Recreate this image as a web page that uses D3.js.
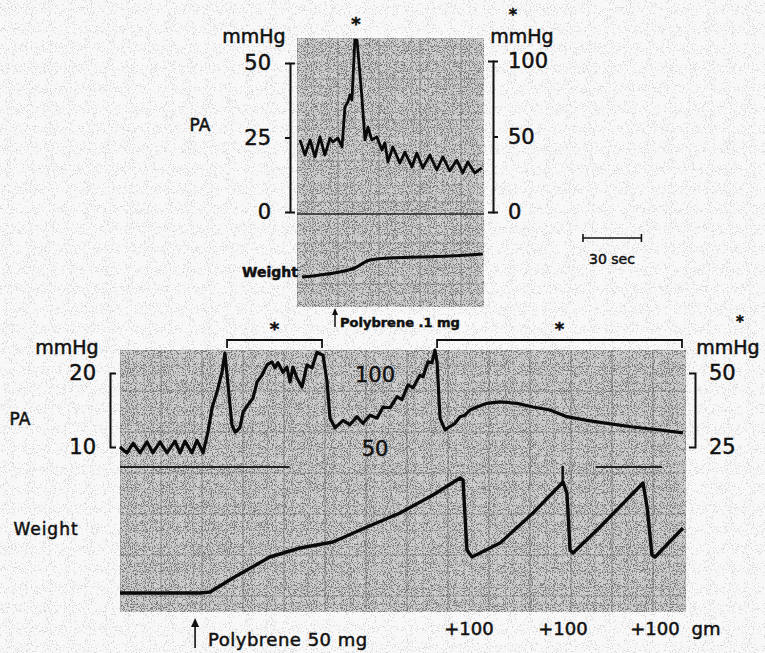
<!DOCTYPE html>
<html>
<head>
<meta charset="utf-8">
<script src="https://cdn.jsdelivr.net/npm/d3@7/dist/d3.min.js"></script>
<style>
  body { margin: 0; background: #f2f2f2; }
  svg { display: block; font-family: 'DejaVu Sans', sans-serif; }
  text { fill: #111; stroke: #111; stroke-width: 0.5px; }
</style>
</head>
<body>
<svg></svg>
<script>
const width = 765;
const height = 653;

// upper recording (Polybrene .1 mg): [seconds, mmHg]
const upperPA = [[1.0,24.2],[3.6,19.1],[6.2,24.2],[8.7,18.5],[11.3,25.2],[13.8,19.1],[16.4,24.8],[17.9,23.5],
  [20.5,24.8],[22.6,21.8],[24.1,35.2],[25.6,36.9],[26.7,39.3],[27.7,37.6],[29.2,57.7],[30.3,57.7],[32.8,38.6],
  [34.4,24.2],[35.9,28.5],[37.9,24.2],[40.5,25.2],[43.1,20.8],[44.6,23.2],[46.2,16.8],[48.7,21.8],[52.3,16.4],
  [54.9,20.1],[58.5,15.1],[61.0,19.8],[64.1,14.8],[67.7,19.1],[71.3,14.1],[74.4,18.5],[77.9,13.8],[81.5,17.4],
  [84.6,13.1],[87.2,16.8],[90.8,13.1],[94.4,14.8]];
// upper weight trace, relative units
const upperWeight = [[2.1,23],[11.3,25],[21.5,28],[29.2,32],[36.9,40],[47.2,42],[62.6,43],[77.9,44],[94.9,46]];

// lower recording (Polybrene 50 mg): [seconds, mmHg]
const lowerPA = [[0,10.0],[3.6,9.2],[6.7,10.5],[10.3,9.2],[13.8,10.7],[16.9,9.2],[20.5,10.7],[24.1,9.2],
  [28.2,10.8],[30.8,9.2],[33.3,10.8],[36.9,9.2],[39.5,10.9],[42.6,9.2],[45.1,12.0],[47.2,15.3],[49.7,17.4],
  [52.3,20.1],[53.8,22.7],[55.4,18.4],[57.4,13.0],[59.0,12.0],[61.5,12.6],[63.1,14.7],[65.6,15.7],[68.2,16.6],
  [70.3,18.8],[72.8,19.7],[75.4,21.1],[77.9,21.5],[79.5,20.7],[81.0,21.4],[83.6,20.1],[85.6,20.8],[87.2,18.8],
  [88.7,20.8],[90.8,19.3],[93.3,18.1],[95.9,21.1],[98.5,20.7],[101.0,22.8],[104.1,22.4],[106.2,18.8],
  [107.7,13.9],[110.3,12.6],[114.4,13.6],[117.9,13.0],[121.5,14.1],[124.6,13.2],[128.2,14.3],[131.8,13.9],
  [134.9,15.4],[138.5,15.3],[142.1,16.8],[144.6,16.4],[147.7,18.4],[150.3,18.0],[153.8,19.7],[155.4,19.5],
  [157.9,21.5],[160.0,21.4],[161.5,23.1],[162.6,21.5],[164.1,13.9],[166.7,12.3],[168.2,12.6],[171.8,13.2],
  [174.4,14.1],[176.9,14.3],[179.5,15.0],[183.1,15.4],[188.2,15.9],[194.9,16.1],[203.6,15.9],[211.8,15.4],
  [220.5,15.0],[229.2,14.1],[239.5,13.6],[249.7,13.2],[263.1,12.7],[276.9,12.3],[288.7,11.9]];
const lowerWeight = [[0,2],[41.0,2],[46.2,3],[57.9,17],[76.9,38],[92.3,47],[109.2,53],[126.7,68],[143.6,82],
  [160.5,100],[174.4,117],[175.9,115],[177.9,45],[180.5,38],[194.9,52],[211.8,82],[227.2,113],[229.2,102],
  [230.8,45],[232.3,42],[246.2,68],[268.2,112],[270.3,88],[272.8,40],[274.4,38],[288.7,67]];

// annotations
const starSpans = [[54.9, 103.6], [162.6, 288.2]];
const addWeightTimes = [180.5, 228.7, 275.9];
const signalMarks = [[0, 87], [244, 278]];
const eventTicks = [227];
const upperDoseTime = 19.0;
const lowerDoseTime = 38.5;

const svg = d3.select('svg')
  .attr('width', width)
  .attr('height', height);

// paper speckle
const defs = svg.append('defs');
const addSpeckle = (id, cut) => {
  const f = defs.append('filter').attr('id', id)
    .attr('x', 0).attr('y', 0).attr('width', 1).attr('height', 1);
  f.append('feTurbulence')
    .attr('type', 'fractalNoise').attr('baseFrequency', 0.95).attr('numOctaves', 2).attr('seed', 4);
  f.append('feColorMatrix')
    .attr('type', 'matrix')
    .attr('values', `0 0 0 0 0  0 0 0 0 0  0 0 0 0 0  14 0 0 0 ${-cut}`);
};
addSpeckle('speckleLight', 8.6);
addSpeckle('speckleDense', 7.4);

svg.append('rect')
  .attr('width', width).attr('height', height)
  .attr('fill', '#f8f8f8');
svg.append('rect')
  .attr('width', width).attr('height', height)
  .attr('filter', 'url(#speckleLight)')
  .attr('opacity', 0.13);

// scales
const upperX = d3.scaleLinear().domain([0, 95]).range([298, 483]);
const upperY = d3.scaleLinear().domain([0, 50]).range([212, 63]);
const upperYStar = d3.scaleLinear().domain([0, 100]).range([212, 61]);
const upperW = d3.scaleLinear().domain([0, 60]).range([300, 240]);

const lowerX = d3.scaleLinear().domain([0, 290]).range([120, 685.5]);
const lowerY = d3.scaleLinear().domain([10, 20]).range([447, 373]);
const lowerYMid = d3.scaleLinear().domain([50, 100]).range([447, 373]);
const lowerYStar = d3.scaleLinear().domain([25, 50]).range([447, 373]);
const lowerW = d3.scaleLinear().domain([0, 130]).range([595, 465]);

const drawPaper = (x0, y0, x1, y1, id) => {
  const g = svg.append('g');
  defs.append('clipPath').attr('id', id)
    .append('rect').attr('x', x0).attr('y', y0).attr('width', x1 - x0).attr('height', y1 - y0);
  g.attr('clip-path', `url(#${id})`);
  g.append('rect')
    .attr('x', x0).attr('y', y0).attr('width', x1 - x0).attr('height', y1 - y0)
    .attr('fill', '#cfcfcf');
  g.append('rect')
    .attr('x', x0).attr('y', y0).attr('width', x1 - x0).attr('height', y1 - y0)
    .attr('filter', 'url(#speckleDense)')
    .attr('opacity', 0.4);
  const step = 8.2;
  d3.range(x0, x1, step).forEach((x, i) => {
    g.append('line')
      .attr('x1', x).attr('x2', x).attr('y1', y0).attr('y2', y1)
      .attr('stroke', i % 5 === 0 ? '#5a5a5a' : '#999')
      .attr('stroke-width', i % 5 === 0 ? 1 : 0.6)
      .attr('opacity', 0.55);
  });
  d3.range(y0, y1, step).forEach((y, i) => {
    g.append('line')
      .attr('x1', x0).attr('x2', x1).attr('y1', y).attr('y2', y)
      .attr('stroke', i % 5 === 0 ? '#666' : '#999')
      .attr('stroke-width', i % 5 === 0 ? 0.9 : 0.6)
      .attr('opacity', 0.5);
  });
};

drawPaper(297, 38, 484, 307, 'clipUpper');
drawPaper(120, 350, 686, 612, 'clipLower');

const styleAxis = (g, size) => {
  g.attr('font-family', "'DejaVu Sans', sans-serif").attr('font-size', size);
  g.selectAll('path, line').attr('stroke', '#111').attr('stroke-width', 2);
  g.selectAll('text').attr('fill', '#111');
};

// ---------- upper panel ----------
svg.append('line')
  .attr('x1', 297).attr('x2', 484)
  .attr('y1', upperY(0) + 2).attr('y2', upperY(0) + 2)
  .attr('stroke', '#222').attr('stroke-width', 1.5);

svg.append('g')
  .attr('transform', 'translate(290,0)')
  .call(d3.axisLeft(upperY).tickValues([0, 25, 50]).tickSizeInner(5).tickSizeOuter(-5).tickPadding(14))
  .call(g => styleAxis(g, 21));

svg.append('g')
  .attr('transform', 'translate(493,0)')
  .call(d3.axisRight(upperYStar).tickValues([0, 50, 100]).tickSizeInner(5).tickSizeOuter(-5).tickPadding(10))
  .call(g => styleAxis(g, 21));

const upperLine = d3.line().x(d => upperX(d[0])).y(d => upperY(d[1]));
svg.append('path')
  .datum(upperPA)
  .attr('fill', 'none')
  .attr('stroke', '#0a0a0a')
  .attr('stroke-width', 2.8)
  .attr('stroke-linejoin', 'round')
  .attr('d', upperLine);

const upperWLine = d3.line().x(d => upperX(d[0])).y(d => upperW(d[1])).curve(d3.curveMonotoneX);
svg.append('path')
  .datum(upperWeight)
  .attr('fill', 'none')
  .attr('stroke', '#0a0a0a')
  .attr('stroke-width', 3)
  .attr('d', upperWLine);

svg.append('text').attr('x', 254).attr('y', 43).attr('text-anchor', 'middle').attr('font-size', 19).text('mmHg');
svg.append('text').attr('x', 522).attr('y', 43).attr('text-anchor', 'middle').attr('font-size', 19).text('mmHg');
svg.append('text').attr('x', 513).attr('y', 20).attr('text-anchor', 'middle').attr('font-size', 16).attr('font-weight', 'bold').text('*');
svg.append('text').attr('x', upperX(29.8)).attr('y', 30).attr('text-anchor', 'middle').attr('font-size', 18).attr('font-weight', 'bold').text('*');
svg.append('text').attr('x', 200).attr('y', 131).attr('text-anchor', 'middle').attr('font-size', 17).text('PA');
svg.append('text').attr('x', 270).attr('y', 277).attr('text-anchor', 'middle').attr('font-size', 14).attr('font-weight', 'bold').text('Weight');

// dose arrow (upper)
svg.append('line')
  .attr('x1', upperX(upperDoseTime)).attr('x2', upperX(upperDoseTime))
  .attr('y1', 327).attr('y2', 310)
  .attr('stroke', '#111').attr('stroke-width', 1.5);
svg.append('path')
  .attr('d', `M${upperX(upperDoseTime) - 3},315L${upperX(upperDoseTime)},308L${upperX(upperDoseTime) + 3},315Z`)
  .attr('fill', '#111');
svg.append('text').attr('x', upperX(upperDoseTime) + 5).attr('y', 327).attr('font-size', 13).attr('font-weight', 'bold')
  .text('Polybrene .1 mg');

// 30 sec scale bar
const barX = 583;
svg.append('path')
  .attr('d', `M${barX},234V242M${barX},238H${barX + upperX(30) - upperX(0)}M${barX + upperX(30) - upperX(0)},234V242`)
  .attr('stroke', '#111').attr('stroke-width', 1.6).attr('fill', 'none');
svg.append('text').attr('x', barX + 29).attr('y', 264).attr('text-anchor', 'middle').attr('font-size', 14).text('30 sec');

// ---------- lower panel ----------
signalMarks.forEach(s => {
  svg.append('line')
    .attr('x1', lowerX(s[0])).attr('x2', lowerX(s[1]))
    .attr('y1', 467).attr('y2', 467)
    .attr('stroke', '#222').attr('stroke-width', 2);
});
eventTicks.forEach(t => {
  svg.append('line')
    .attr('x1', lowerX(t)).attr('x2', lowerX(t))
    .attr('y1', 466).attr('y2', 484)
    .attr('stroke', '#111').attr('stroke-width', 2.5);
});

svg.append('g')
  .attr('transform', 'translate(110,0)')
  .call(d3.axisLeft(lowerY).tickValues([10, 20]).tickSizeInner(0).tickSizeOuter(-6).tickPadding(14))
  .call(g => styleAxis(g, 21));

svg.append('g')
  .attr('transform', 'translate(695,0)')
  .call(d3.axisRight(lowerYStar).tickValues([25, 50]).tickSizeInner(0).tickSizeOuter(-6).tickPadding(14))
  .call(g => styleAxis(g, 21));

svg.append('g')
  .attr('transform', 'translate(375,2)')
  .call(d3.axisLeft(lowerYMid).tickValues([50, 100]).tickSize(0).tickPadding(0))
  .call(g => {
    styleAxis(g, 21);
    g.select('.domain').remove();
    g.selectAll('text').attr('text-anchor', 'middle');
  });

starSpans.forEach(s => {
  const x0 = lowerX(s[0]);
  const x1 = lowerX(s[1]);
  svg.append('path')
    .attr('d', `M${x0},348V340H${x1}V348`)
    .attr('fill', 'none').attr('stroke', '#111').attr('stroke-width', 1.8);
  svg.append('text').attr('x', (x0 + x1) / 2).attr('y', 335).attr('text-anchor', 'middle')
    .attr('font-size', 18).attr('font-weight', 'bold').text('*');
});

const lowerLine = d3.line().x(d => lowerX(d[0])).y(d => lowerY(d[1]));
svg.append('path')
  .datum(lowerPA)
  .attr('fill', 'none')
  .attr('stroke', '#0a0a0a')
  .attr('stroke-width', 3.2)
  .attr('stroke-linejoin', 'round')
  .attr('d', lowerLine);

const lowerWLine = d3.line().x(d => lowerX(d[0])).y(d => lowerW(d[1]));
svg.append('path')
  .datum(lowerWeight)
  .attr('fill', 'none')
  .attr('stroke', '#0a0a0a')
  .attr('stroke-width', 3.4)
  .attr('stroke-linejoin', 'round')
  .attr('d', lowerWLine);

svg.append('text').attr('x', 67).attr('y', 354).attr('text-anchor', 'middle').attr('font-size', 19).text('mmHg');
svg.append('text').attr('x', 728).attr('y', 354).attr('text-anchor', 'middle').attr('font-size', 19).text('mmHg');
svg.append('text').attr('x', 740).attr('y', 327).attr('text-anchor', 'middle').attr('font-size', 15).attr('font-weight', 'bold').text('*');
svg.append('text').attr('x', 20).attr('y', 425).attr('text-anchor', 'middle').attr('font-size', 17).text('PA');
svg.append('text').attr('x', 46).attr('y', 535).attr('text-anchor', 'middle').attr('font-size', 17)
  .attr('letter-spacing', 1).text('Weight');

// dose arrow (lower)
const ax = lowerX(lowerDoseTime);
svg.append('line').attr('x1', ax).attr('x2', ax).attr('y1', 648).attr('y2', 622)
  .attr('stroke', '#111').attr('stroke-width', 1.6);
svg.append('path').attr('d', `M${ax - 4},627L${ax},618L${ax + 4},627Z`).attr('fill', '#111');
svg.append('text').attr('x', ax + 13).attr('y', 646).attr('font-size', 18).attr('letter-spacing', 0.5)
  .text('Polybrene  50 mg');

addWeightTimes.forEach(t => {
  svg.append('text').attr('x', lowerX(t) - 3).attr('y', 635).attr('text-anchor', 'middle')
    .attr('font-size', 18).text('+100');
});
svg.append('text').attr('x', 706).attr('y', 635).attr('text-anchor', 'middle').attr('font-size', 18).text('gm');
</script>
</body>
</html>
